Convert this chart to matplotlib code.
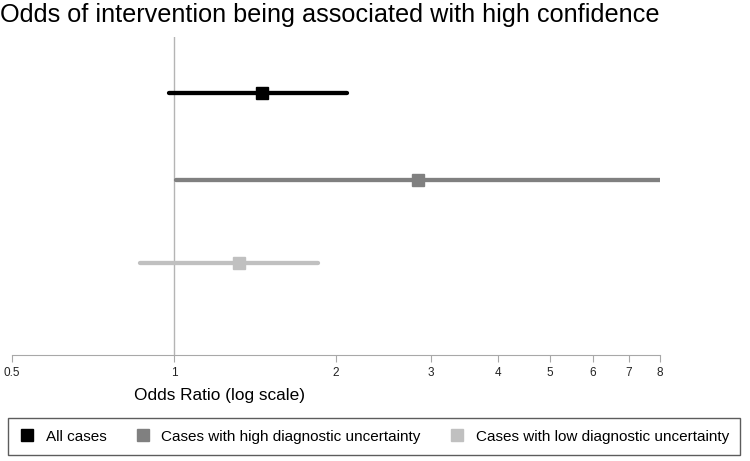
import matplotlib.pyplot as plt
import numpy as np

plt.rcParams['font.family'] = ['Liberation Sans', 'DejaVu Sans']

# forest plot data (odds ratio, 95% CI)
groups = ["All cases", "Cases with high diagnostic uncertainty", "Cases with low diagnostic uncertainty"]
odds_ratio = [1.46, 2.84, 1.32]
ci_low = [0.98, 1.01, 0.865]
ci_high = [2.10, 9.0, 1.85]
colors = ["#000000", "#808080", "#c0c0c0"]
ypos = [3, 1.98, 1]
xticks = [0.5, 1, 2, 3, 4, 5, 6, 7, 8]
xticklabels = ["0.5", "1", "2", "3", "4", "5", "6", "7", "8"]

fig = plt.figure(figsize=(7.5, 4.61), dpi=100)
ax = fig.add_axes([0.016, 0.23, 0.864, 0.69])

ax.axvline(1, color="#b4b4b4", lw=1, zorder=1)
for i in range(len(groups)):
    ax.plot([ci_low[i], ci_high[i]], [ypos[i], ypos[i]], color=colors[i], lw=3.1,
            solid_capstyle="round", zorder=2)
    ax.plot(odds_ratio[i], ypos[i], marker="s", ms=9, color=colors[i], ls="none", zorder=3)

ax.set_xscale("log")
ax.set_xlim(0.5, 8)
ax.set_ylim(-0.08, 3.66)
ax.set_xticks(xticks)
ax.set_xticklabels(xticklabels)
ax.minorticks_off()
ax.set_yticks([])
for s in ["top", "right", "left"]:
    ax.spines[s].set_visible(False)
ax.spines["bottom"].set_color("#a8a8a8")
ax.tick_params(axis="x", colors="#a8a8a8", length=5, labelsize=8.5, labelcolor="#222222")

fig.text(0.0, 0.967, "Odds of intervention being associated with high confidence",
         fontsize=18.2, va="center", ha="left")
fig.text(0.293, 0.143, "Odds Ratio (log scale)", fontsize=12.4, ha="center", va="center")

handles = [plt.Line2D([], [], marker="s", ls="none", color=c, ms=8) for c in colors]
leg = fig.legend(handles, groups, loc="lower left", ncol=3, mode="expand",
                 bbox_to_anchor=(0.011, 0.013, 0.976, 0.08), fontsize=11,
                 frameon=True, fancybox=False, edgecolor="#333333",
                 handletextpad=0.7, borderaxespad=0, handlelength=1.0, borderpad=0.75)
leg.get_frame().set_linewidth(1)

fig.savefig("out.png", dpi=100)
